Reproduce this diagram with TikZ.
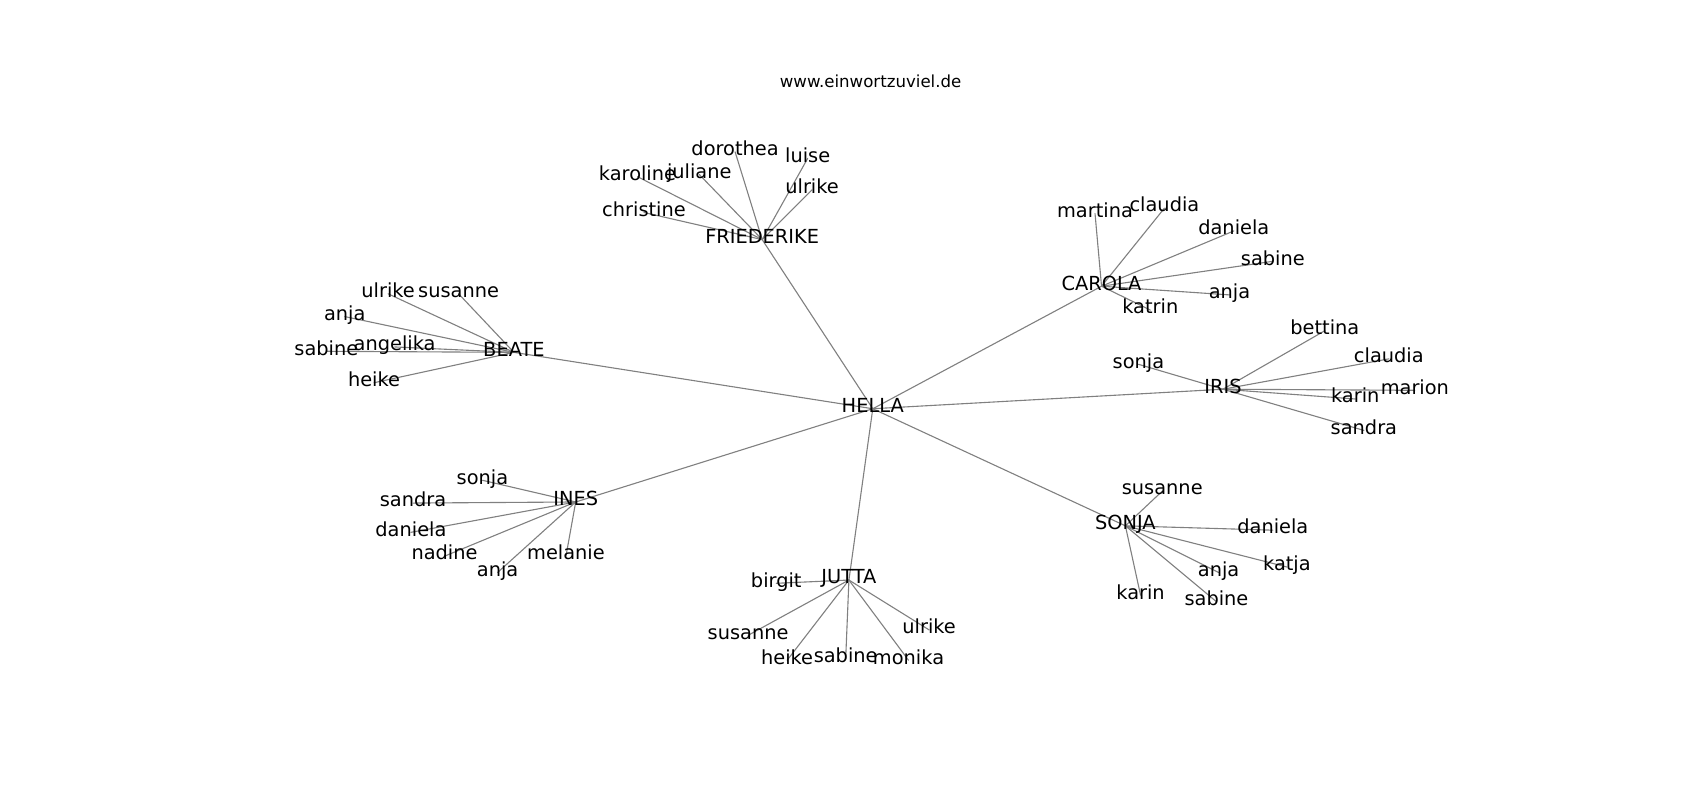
\documentclass[tikz,border=0pt]{standalone}
\usepackage{fontspec}
\setmainfont{DejaVu Sans}
\usepackage{tikz}
\usetikzlibrary{calc}
\pgfdeclarelayer{bg}
\pgfsetlayers{bg,main}
\tikzset{
	lbl/.style={inner sep=0pt,text height=0.76em,text depth=0.21em,font=\fontsize{14}{17}\selectfont},
	link/.style={draw=gray,line width=0.8pt,line cap=round}
}
\begin{document}
\begin{tikzpicture}[x=0.027538cm,y=-0.027538cm]
		\useasboundingbox (0,0) rectangle (1568,738);
		\node[font=\fontsize{12}{14}\selectfont] (title) at (803,75) {www.einwortzuviel.de};
		\begin{scope}[shift={(0,3)}]
		% hubs
		\node[lbl] (hella) at (805,374) {HELLA};
		\node[lbl] (friederike) at (703,218) {FRIEDERIKE};
		\node[lbl] (carola) at (1016,261) {CAROLA};
		\node[lbl] (beate) at (474,322) {BEATE};
		\node[lbl] (iris) at (1128,356) {IRIS};
		\node[lbl] (ines) at (531,460) {INES};
		\node[lbl] (jutta) at (783,532) {JUTTA};
		\node[lbl] (sonja) at (1038,482) {SONJA};
		% friederike
		\node[lbl] (fDorothea) at (678,137) {dorothea};
		\node[lbl] (fLuise) at (745,143) {luise};
		\node[lbl] (fKaroline) at (588,160) {karoline};
		\node[lbl] (fJuliane) at (645,158) {juliane};
		\node[lbl] (fUlrike) at (749,172) {ulrike};
		\node[lbl] (fChristine) at (594,193) {christine};
		% carola
		\node[lbl] (cMartina) at (1010,194) {martina};
		\node[lbl] (cClaudia) at (1074,189) {claudia};
		\node[lbl] (cDaniela) at (1138,210) {daniela};
		\node[lbl] (cSabine) at (1174,238) {sabine};
		\node[lbl] (cAnja) at (1134,269) {anja};
		\node[lbl] (cKatrin) at (1061,283) {katrin};
		% beate
		\node[lbl] (bUlrike) at (358,268) {ulrike};
		\node[lbl] (bSusanne) at (423,268) {susanne};
		\node[lbl] (bAnja) at (318,289) {anja};
		\node[lbl] (bSabine) at (301,321) {sabine};
		\node[lbl] (bAngelika) at (364,317) {angelika};
		\node[lbl] (bHeike) at (345,350) {heike};
		% iris
		\node[lbl] (iBettina) at (1222,302) {bettina};
		\node[lbl] (iClaudia) at (1281,328) {claudia};
		\node[lbl] (iSonja) at (1050,333) {sonja};
		\node[lbl] (iMarion) at (1305,357) {marion};
		\node[lbl] (iKarin) at (1250,365) {karin};
		\node[lbl] (iSandra) at (1258,394) {sandra};
		% ines
		\node[lbl] (nSonja) at (445,440) {sonja};
		\node[lbl] (nSandra) at (381,461) {sandra};
		\node[lbl] (nDaniela) at (379,488) {daniela};
		\node[lbl] (nNadine) at (410,510) {nadine};
		\node[lbl] (nAnja) at (459,525) {anja};
		\node[lbl] (nMelanie) at (522,510) {melanie};
		% jutta
		\node[lbl] (jBirgit) at (716,535) {birgit};
		\node[lbl] (jSusanne) at (690,583) {susanne};
		\node[lbl] (jHeike) at (726,606) {heike};
		\node[lbl] (jSabine) at (780,605) {sabine};
		\node[lbl] (jMonika) at (838,606) {monika};
		\node[lbl] (jUlrike) at (857,578) {ulrike};
		% sonja
		\node[lbl] (sSusanne) at (1072,450) {susanne};
		\node[lbl] (sDaniela) at (1174,486) {daniela};
		\node[lbl] (sKatja) at (1187,520) {katja};
		\node[lbl] (sAnja) at (1124,525) {anja};
		\node[lbl] (sKarin) at (1052,546) {karin};
		\node[lbl] (sSabine) at (1122,552) {sabine};
		\end{scope}
		% edges
		\begin{pgfonlayer}{bg}
		\foreach \n in {friederike,carola,beate,iris,ines,jutta,sonja}
			\draw[link] (hella.center) -- (\n.center);
		\foreach \n in {fDorothea,fLuise,fKaroline,fJuliane,fUlrike,fChristine}
			\draw[link] (friederike.center) -- (\n.center);
		\foreach \n in {cMartina,cClaudia,cDaniela,cSabine,cAnja,cKatrin}
			\draw[link] (carola.center) -- (\n.center);
		\foreach \n in {bUlrike,bSusanne,bAnja,bSabine,bAngelika,bHeike}
			\draw[link] (beate.center) -- (\n.center);
		\foreach \n in {iBettina,iClaudia,iSonja,iMarion,iKarin,iSandra}
			\draw[link] (iris.center) -- (\n.center);
		\foreach \n in {nSonja,nSandra,nDaniela,nNadine,nAnja,nMelanie}
			\draw[link] (ines.center) -- (\n.center);
		\foreach \n in {jBirgit,jSusanne,jHeike,jSabine,jMonika,jUlrike}
			\draw[link] (jutta.center) -- (\n.center);
		\foreach \n in {sSusanne,sDaniela,sKatja,sAnja,sKarin,sSabine}
			\draw[link] (sonja.center) -- (\n.center);
		\end{pgfonlayer}
		
		\end{tikzpicture}
\end{document}
